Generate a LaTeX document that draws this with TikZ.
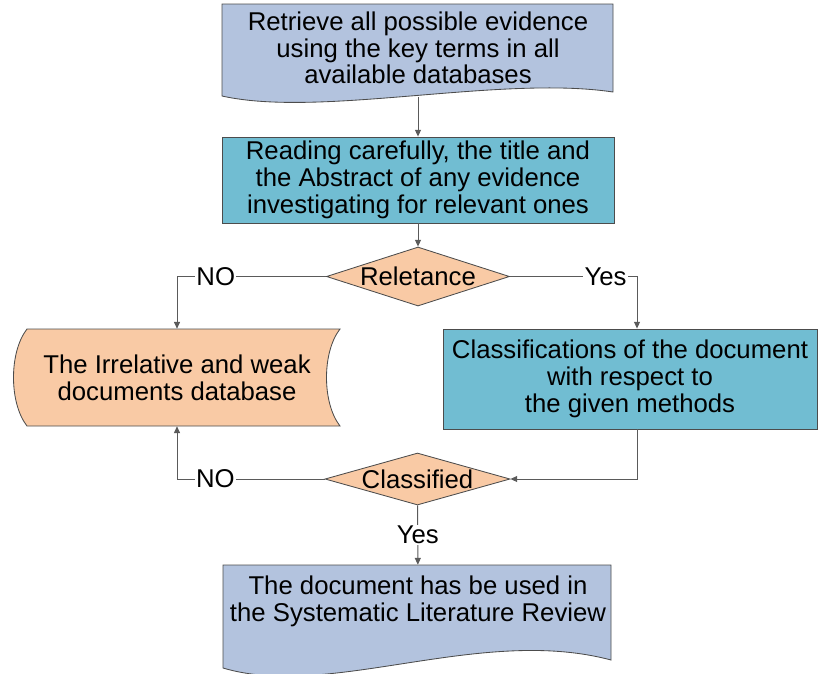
\documentclass[tikz,border=0pt]{standalone}
\usepackage{fontspec}
\setmainfont{Liberation Sans}
\usetikzlibrary{arrows.meta,positioning,shapes.geometric}
\definecolor{docFill}{HTML}{B3C3DE}
\definecolor{procFill}{HTML}{71BDD2}
\definecolor{decFill}{HTML}{F9CAA5}
\definecolor{lineGray}{HTML}{5A5A5A}

\begin{document}
\begin{tikzpicture}[
  font=\fontsize{18.3}{19}\selectfont,>={Triangle[length=1.7mm,width=1.5mm]},
  shapeline/.style={draw=black!70,line width=.6pt},
  docshape/.style={shapeline,fill=docFill},
  dbshape/.style={shapeline,fill=decFill},
  doctext/.style={rectangle,align=center,minimum width=9.7cm},
  proc/.style={rectangle,shapeline,fill=procFill,align=center,inner sep=0pt},
  decision/.style={diamond,shapeline,fill=decFill,inner sep=0pt,shape aspect=3},
  flow/.style={->,draw=lineGray,line width=.7pt},
  answer/.style={fill=white,inner sep=1pt,text=black}
]
\useasboundingbox (0,0) rectangle (20.5,-16.825);
% outlines of the document and stored-data shapes
\draw[docshape] (5.55,-0.1) -- (15.325,-0.1) -- (15.325,-2.3)
  .. controls (12.5,-1.875) and (8.0,-2.95) .. (5.55,-2.4) -- cycle;
\draw[dbshape] (0.675,-8.225) -- (8.5,-8.225) .. controls (8.05,-8.8) and (8.05,-10.075) .. (8.5,-10.65)
  -- (0.675,-10.65) .. controls (0.225,-10.075) and (0.225,-8.8) .. cycle;
\draw[docshape] (5.575,-14.125) -- (15.275,-14.125) -- (15.275,-16.5)
  .. controls (12.0,-15.625) and (8.25,-17.5) .. (5.575,-16.7) -- cycle;
% nodes
\node[doctext,minimum height=2.45cm] (retrieve) at (10.45,-1.2)
 {Retrieve all possible evidence\\using the key terms in all\\available databases};
\node[proc,minimum width=9.8cm,minimum height=2.15cm] (reading) at (10.45,-4.5)
 {Reading carefully, the title and\\the Abstract of any evidence\\investigating for relevant ones};
\node[decision,minimum width=4.575cm,minimum height=1.475cm] (reletance) at (10.45,-6.9125)
 {\makebox[1.6cm]{Reletance}};
\node[rectangle,align=center,minimum height=2.425cm] (irrel) at (4.425,-9.4375)
 {The Irrelative and weak\\documents database};
\node[proc,minimum width=9.35cm,minimum height=2.5cm] (classify) at (15.75,-9.475)
 {Classifications of the document\\with respect to\\the given methods};
\node[decision,minimum width=4.625cm,minimum height=1.3cm] (classified) at (10.4375,-11.975)
 {\makebox[1.6cm]{Classified}};
\node[doctext,minimum height=1.8cm] (final) at (10.45,-15.025)
 {The document has be used in\\the Systematic Literature Review};
% connectors
\draw[flow] (retrieve) -- (reading);
\draw[flow] (reading) -- (reletance);
\draw[flow] (reletance.west) -| node[answer,pos=.37]{NO} (irrel.north);
\draw[flow] (reletance.east) -| node[answer,pos=.376]{Yes} ([xshift=.175cm]classify.north);
\draw[flow] ([xshift=.175cm]classify.south) |- (classified.east);
\draw[flow] (classified.west) -| node[answer,pos=.37]{NO} (irrel.south);
\draw[flow] (classified) -- node[answer]{Yes} (final);
\end{tikzpicture}
\end{document}
